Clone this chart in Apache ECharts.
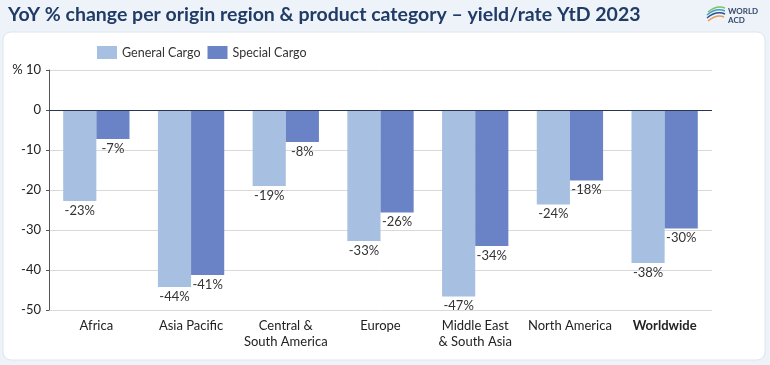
<!DOCTYPE html>
<html><head><meta charset="utf-8">
<script src="https://cdn.jsdelivr.net/npm/echarts@6/dist/echarts.min.js"></script>
<style>html,body{margin:0;padding:0;background:#eef3f9;}#c{width:770px;height:365px;}</style>
</head><body><div id="c"></div>
<script>
const categories = ['Africa', 'Asia Pacific', 'Central &\nSouth America', 'Europe', 'Middle East\n& South Asia', 'North America', 'Worldwide'];
const generalCargo = [-22.75, -44.25, -19, -32.75, -46.6, -23.6, -38.25];
const specialCargo = [-7.25, -41.25, -8, -25.6, -34, -17.6, -29.6];
const yTicks = [10, 0, -10, -20, -30, -40, -50];

const chart = echarts.init(document.getElementById('c'), null, {renderer: 'canvas'});
const font = 'Lato, "Open Sans", sans-serif';
const lbl = {show: true, position: 'bottom', distance: 3, fontFamily: font, fontSize: 13, color: '#333',
  formatter: p => Math.round(p.value) + '%'};
chart.setOption({
  animation: false,
  backgroundColor: '#eef3f9',
  graphic: [
    {type: 'rect', shape: {x: 3, y: 32, width: 762, height: 328, r: 8}, style: {fill: '#fff', stroke: '#dfe5ec', lineWidth: 1}, z: -10},
    {type: 'text', left: 8, top: 5, style: {text: 'YoY % change per origin region & product category \u2013 yield/rate YtD 2023', fontFamily: font, fontSize: 19.5, fontWeight: 'bold', fill: '#1f3b66'}},
    {type: 'text', left: 728, top: 7, style: {text: 'WORLD\nACD', fontFamily: font, fontSize: 8, fontWeight: 'bold', fill: '#34476b', lineHeight: 9}},
    {type: 'bezierCurve', shape: {x1: 708, y1: 12, x2: 725, y2: 8, cpx1: 714, cpy1: 7, cpx2: 720, cpy2: 6}, style: {stroke: '#7cc36b', lineWidth: 1.5, fill: null}},
    {type: 'bezierCurve', shape: {x1: 707, y1: 15, x2: 725, y2: 11, cpx1: 713, cpy1: 10, cpx2: 720, cpy2: 9}, style: {stroke: '#3aa0c8', lineWidth: 1.5, fill: null}},
    {type: 'bezierCurve', shape: {x1: 707, y1: 18, x2: 725, y2: 14, cpx1: 713, cpy1: 13, cpx2: 720, cpy2: 12}, style: {stroke: '#2d4f8e', lineWidth: 1.5, fill: null}},
    {type: 'bezierCurve', shape: {x1: 708, y1: 21, x2: 724, y2: 17, cpx1: 714, cpy1: 16, cpx2: 720, cpy2: 15}, style: {stroke: '#e99a5a', lineWidth: 1.5, fill: null}}
  ],
  legend: {left: 92, top: 41, itemWidth: 20, itemHeight: 13, itemGap: 7, icon: 'rect',
    textStyle: {fontFamily: font, fontSize: 12.5, color: '#333'}},
  grid: {left: 49, right: 58, top: 70, bottom: 55},
  xAxis: {type: 'category', data: categories, axisLine: {show: false}, axisTick: {show: false},
    axisLabel: {fontFamily: font, fontSize: 13, color: '#222', lineHeight: 16, margin: 8, interval: 0,
      formatter: v => v === 'Worldwide' ? '{b|' + v + '}' : v,
      rich: {b: {fontWeight: 'bold', fontFamily: font, fontSize: 13, color: '#222'}}}},
  yAxis: {type: 'value', min: -50, max: 10, interval: 10,
    axisLine: {show: true, lineStyle: {color: '#555'}}, axisTick: {show: true, length: 3, lineStyle: {color: '#555'}},
    splitLine: {lineStyle: {color: '#d9d9d9'}},
    axisLabel: {fontFamily: font, fontSize: 13, color: '#222', margin: 8,
      formatter: v => yTicks.includes(v) ? (v === 10 ? '% 10' : String(v)) : ''}},
  series: [
    {name: 'General Cargo', type: 'bar', data: generalCargo, barGap: '0%', barCategoryGap: '30%',
      itemStyle: {color: '#a7bfe0'}, label: lbl,
      markLine: {silent: true, symbol: 'none', label: {show: false}, lineStyle: {color: '#2a3550', width: 1, type: 'solid'}, data: [{yAxis: 0}]}},
    {name: 'Special Cargo', type: 'bar', data: specialCargo, itemStyle: {color: '#6a83c6'}, label: lbl}
  ]
});
</script></body></html>
